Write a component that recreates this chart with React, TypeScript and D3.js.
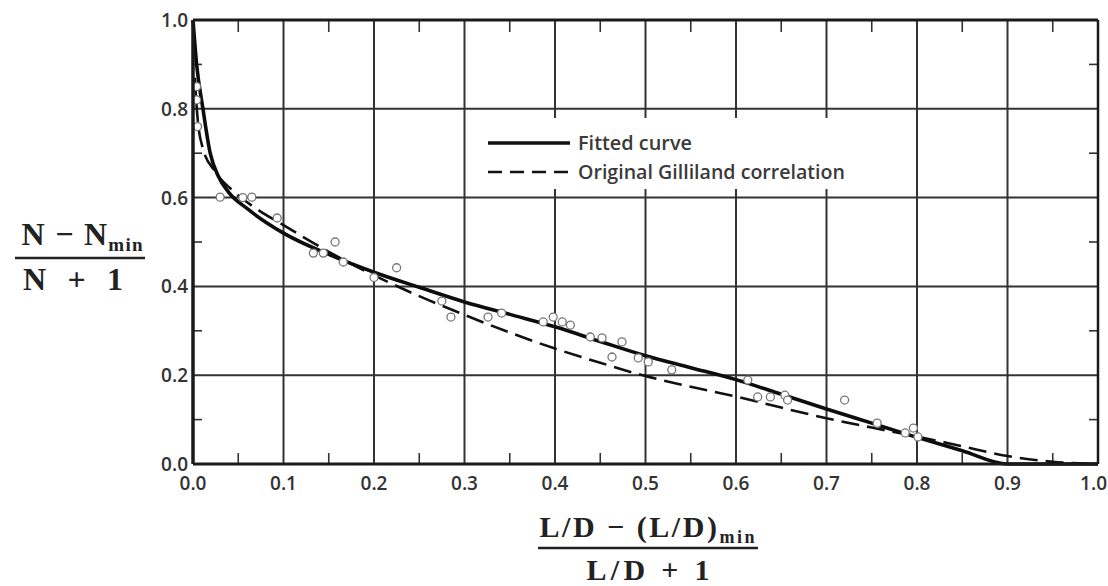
import React from 'react';
import * as d3 from 'd3';

// ---- data ----
const xTicks = [0, 0.1, 0.2, 0.3, 0.4, 0.5, 0.6, 0.7, 0.8, 0.9, 1.0];
const yTicks = [0, 0.2, 0.4, 0.6, 0.8, 1.0];
const xMinorTicks = [0.05, 0.15, 0.25, 0.35, 0.45, 0.55, 0.65, 0.75, 0.85, 0.95];
const yMinorTicks = [0.1, 0.3, 0.5, 0.7, 0.9];

const fittedX = [0, 0.004, 0.011, 0.019, 0.028, 0.039, 0.06, 0.1, 0.15, 0.2, 0.25, 0.3, 0.35, 0.4, 0.45, 0.5, 0.55, 0.6, 0.65, 0.7, 0.75, 0.8, 0.85, 0.9, 0.95, 1.0];
const fittedY = [1.0, 0.9, 0.8, 0.7, 0.648, 0.613, 0.575, 0.52, 0.472, 0.432, 0.398, 0.365, 0.337, 0.309, 0.276, 0.244, 0.217, 0.19, 0.157, 0.124, 0.092, 0.06, 0.03, 0.0, 0.0, 0.0];

const gillilandX = [0.002, 0.005, 0.011, 0.024, 0.046, 0.07, 0.1, 0.15, 0.2, 0.25, 0.3, 0.35, 0.4, 0.45, 0.5, 0.55, 0.6, 0.65, 0.7, 0.75, 0.8, 0.85, 0.9, 0.95, 1.0];
const gillilandY = [0.87, 0.78, 0.71, 0.66, 0.612, 0.575, 0.538, 0.478, 0.425, 0.378, 0.336, 0.296, 0.26, 0.228, 0.198, 0.174, 0.152, 0.127, 0.103, 0.082, 0.062, 0.04, 0.018, 0.005, 0.0];

const dataX = [0.004, 0.004, 0.005, 0.03, 0.055, 0.065, 0.093, 0.133, 0.144, 0.157, 0.166, 0.2, 0.225, 0.275, 0.285, 0.326, 0.341, 0.387, 0.398, 0.408, 0.417, 0.439, 0.452, 0.463, 0.474, 0.492, 0.503, 0.529, 0.613, 0.624, 0.638, 0.654, 0.657, 0.72, 0.756, 0.787, 0.796, 0.801];
const dataY = [0.85, 0.82, 0.76, 0.601, 0.6, 0.601, 0.554, 0.475, 0.475, 0.5, 0.455, 0.42, 0.442, 0.367, 0.331, 0.331, 0.34, 0.32, 0.331, 0.32, 0.313, 0.286, 0.284, 0.241, 0.275, 0.239, 0.23, 0.212, 0.189, 0.151, 0.151, 0.155, 0.144, 0.144, 0.092, 0.07, 0.081, 0.061];

const legendLabels = ['Fitted curve', 'Original Gilliland correlation'];

// ---- layout ----
const W = 1108;
const H = 586;
const left = 193;
const right = 1098;
const top = 20;
const bottom = 464;

const tickFont = '"Open Sans", "DejaVu Sans", sans-serif';
const serif = '"Liberation Serif", "DejaVu Serif", serif';
const ink = '#222';

export default function App() {
  const x = d3.scaleLinear().domain([0, 1]).range([left, right]);
  const y = d3.scaleLinear().domain([0, 1]).range([bottom, top]);

  const line = d3
    .line<[number, number]>()
    .x((d) => x(d[0]))
    .y((d) => y(d[1]))
    .curve(d3.curveMonotoneX);

  const fitted: [number, number][] = fittedX.map((v, i) => [v, fittedY[i]]);
  const gill: [number, number][] = gillilandX.map((v, i) => [v, gillilandY[i]]);

  return (
    <svg
      width={W}
      height={H}
      viewBox={`0 0 ${W} ${H}`}
      style={{ position: 'absolute', left: 0, top: 0, background: '#fff' }}
    >
      <rect x={0} y={0} width={W} height={H} fill="#fff" />

      {/* grid */}
      <g stroke="#333" strokeWidth={2}>
        {xTicks.slice(1, -1).map((t) => (
          <line key={'gx' + t} x1={x(t)} x2={x(t)} y1={y(0)} y2={y(1)} />
        ))}
        {yTicks.slice(1, -1).map((t) => (
          <line key={'gy' + t} x1={x(0)} x2={x(1)} y1={y(t)} y2={y(t)} />
        ))}
      </g>

      {/* minor ticks */}
      <g stroke="#333" strokeWidth={1.6}>
        {xMinorTicks.map((t) => (
          <g key={'mx' + t}>
            <line x1={x(t)} x2={x(t)} y1={y(0)} y2={y(0) - 11} />
            <line x1={x(t)} x2={x(t)} y1={y(1)} y2={y(1) + 12} />
          </g>
        ))}
        {yMinorTicks.map((t) => (
          <g key={'my' + t}>
            <line x1={x(0)} x2={x(0) + 9} y1={y(t)} y2={y(t)} />
            <line x1={x(1)} x2={x(1) - 9} y1={y(t)} y2={y(t)} />
          </g>
        ))}
      </g>

      {/* legend box (covers grid) */}
      <rect x={478} y={118} width={392} height={71} fill="#fff" />
      <line x1={488} x2={570} y1={143} y2={143} stroke="#111" strokeWidth={3.5} />
      <text x={578} y={150} fontFamily={tickFont} fontSize={19} fontWeight={600} fill="#3a3a3a" textLength={114} lengthAdjust="spacingAndGlyphs">
        {legendLabels[0]}
      </text>
      <line x1={488} x2={570} y1={172} y2={172} stroke="#111" strokeWidth={2.5} strokeDasharray="14,8" />
      <text x={578} y={179} fontFamily={tickFont} fontSize={19} fontWeight={600} fill="#3a3a3a" textLength={267} lengthAdjust="spacingAndGlyphs">
        {legendLabels[1]}
      </text>

      {/* curves */}
      <path d={line(gill) || ''} fill="none" stroke="#111" strokeWidth={2.6} strokeDasharray="18,8" />
      <path d={line(fitted) || ''} fill="none" stroke="#0d0d0d" strokeWidth={3.6} strokeLinejoin="round" />

      {/* data points */}
      <g fill="#fff" stroke="#777" strokeWidth={1.3}>
        {dataX.map((v, i) => (
          <circle key={'p' + i} cx={x(v)} cy={y(dataY[i])} r={4} />
        ))}
      </g>

      {/* frame */}
      <g stroke="#1a1a1a" fill="none">
        <line x1={x(0)} x2={x(1)} y1={y(1)} y2={y(1)} strokeWidth={3} />
        <line x1={x(0)} x2={x(1)} y1={y(0)} y2={y(0)} strokeWidth={3} />
        <line x1={x(0)} x2={x(0)} y1={y(0)} y2={y(1)} strokeWidth={3.5} />
        <line x1={x(1)} x2={x(1)} y1={y(0)} y2={y(1)} strokeWidth={2.5} />
      </g>

      {/* tick labels */}
      <g fontFamily={tickFont} fontSize={19} fontWeight={600} fill="#333">
        {xTicks.map((t, i) => (
          <text
            key={'xl' + t}
            x={i === xTicks.length - 1 ? W - 1 : x(t)}
            y={bottom + 26}
            textAnchor={i === xTicks.length - 1 ? 'end' : 'middle'}
          >
            {d3.format('.1f')(t)}
          </text>
        ))}
        {yTicks.map((t) => (
          <text key={'yl' + t} x={left - 5} y={y(t) + 7} textAnchor="end">
            {d3.format('.1f')(t)}
          </text>
        ))}
      </g>

      {/* y axis label */}
      <g fontFamily={serif} fontWeight="bold" fill={ink}>
        <text x={82} y={245} fontSize={32} textAnchor="middle" textLength={121} lengthAdjust="spacing">
          N − N
          <tspan fontSize={19} dy={6}>min</tspan>
        </text>
        <text x={73} y={290} fontSize={32} textAnchor="middle" textLength={100} lengthAdjust="spacing">
          N + 1
        </text>
      </g>
      <line x1={15} x2={145} y1={258} y2={258} stroke={ink} strokeWidth={2.5} />

      {/* x axis label */}
      <g fontFamily={serif} fontWeight="bold" fill={ink}>
        <text x={647} y={537} fontSize={30} textAnchor="middle" textLength={215} lengthAdjust="spacing">
          L/D − (L/D)
          <tspan fontSize={18} dy={6}>min</tspan>
        </text>
        <text x={648} y={580} fontSize={30} textAnchor="middle" textLength={123} lengthAdjust="spacing">
          L/D + 1
        </text>
      </g>
      <line x1={538} x2={758} y1={548} y2={548} stroke={ink} strokeWidth={2.5} />
    </svg>
  );
}
